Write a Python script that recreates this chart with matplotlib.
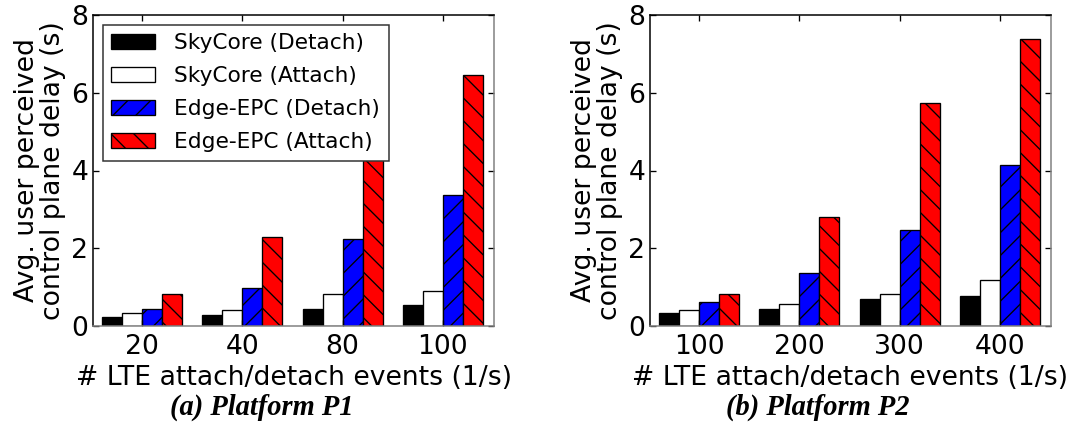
import numpy as np
import matplotlib
matplotlib.use('Agg')
import matplotlib.pyplot as plt

# data
p1_loads = ['20', '40', '80', '100']
p2_loads = ['100', '200', '300', '400']
series = ['SkyCore (Detach)', 'SkyCore (Attach)', 'Edge-EPC (Detach)', 'Edge-EPC (Attach)']

p1_sky_detach = [0.23, 0.29, 0.43, 0.55]
p1_sky_attach = [0.34, 0.40, 0.82, 0.89]
p1_epc_detach = [0.45, 0.97, 2.23, 3.36]
p1_epc_attach = [0.83, 2.28, 4.70, 6.45]

p2_sky_detach = [0.34, 0.43, 0.69, 0.77]
p2_sky_attach = [0.42, 0.56, 0.83, 1.19]
p2_epc_detach = [0.61, 1.37, 2.46, 4.15]
p2_epc_attach = [0.83, 2.80, 5.73, 7.38]

colors = ['black', 'white', '#0000FF', '#FF0000']
hatches = ['', '', '//', '\\\\']

DPI = 137
plt.rcParams['font.family'] = 'DejaVu Sans'
plt.rcParams['hatch.linewidth'] = 0.7
plt.rcParams['xtick.direction'] = 'in'
plt.rcParams['ytick.direction'] = 'in'

fig = plt.figure(figsize=(1076 / DPI, 425 / DPI), dpi=DPI)
W, H = 1076.0, 425.0
ax1 = fig.add_axes([93 / W, (H - 326) / H, 401 / W, 311 / H])
ax2 = fig.add_axes([650 / W, (H - 326) / H, 401 / W, 311 / H])

def draw(ax, loads, vals):
    x = np.arange(len(loads))
    width = 0.2
    for i, v in enumerate(vals):
        ax.bar(x - 0.3 + i * width, v, width, color=colors[i], edgecolor='black',
               linewidth=0.7, hatch=hatches[i], label=series[i])
    ax.set_xlim(-0.49, 3.51)
    ax.set_ylim(0, 8)
    ax.set_yticks([0, 2, 4, 6, 8])
    ax.set_xticks(x)
    ax.set_xticklabels(loads)
    ax.tick_params(axis='both', labelsize=14, length=3, width=0.7, top=True, right=True)
    ax.tick_params(axis='x', pad=4)
    ax.tick_params(axis='y', pad=2.5)
    ax.set_xlabel('# LTE attach/detach events (1/s)', fontsize=14, labelpad=3)
    ax.set_ylabel('Avg. user perceived\ncontrol plane delay (s)', fontsize=14,
                  linespacing=1.0, labelpad=3)
    for s in ax.spines.values():
        s.set_linewidth(0.8)
    # the reference draws the bottom and right borders in grey
    ax.spines['right'].set_color('#808080')
    ax.spines['bottom'].set_color('#808080')

draw(ax1, p1_loads, [p1_sky_detach, p1_sky_attach, p1_epc_detach, p1_epc_attach])
draw(ax2, p2_loads, [p2_sky_detach, p2_sky_attach, p2_epc_detach, p2_epc_attach])

leg = ax1.legend(loc='upper left', fontsize=11.4, labelspacing=0.6, borderpad=0.4,
                 handlelength=2.0, handleheight=0.7, handletextpad=0.9,
                 borderaxespad=0.45, fancybox=False, framealpha=1)
leg.get_frame().set_edgecolor('#333333')
leg.get_frame().set_linewidth(0.8)

fig.text(262 / W, 1 - 407 / H, '(a) Platform P1', ha='center', va='center',
         family='Liberation Serif', style='italic', weight='bold', fontsize=15)
fig.text(818 / W, 1 - 407 / H, '(b) Platform P2', ha='center', va='center',
         family='Liberation Serif', style='italic', weight='bold', fontsize=15)

fig.savefig('out.png', dpi=DPI)
